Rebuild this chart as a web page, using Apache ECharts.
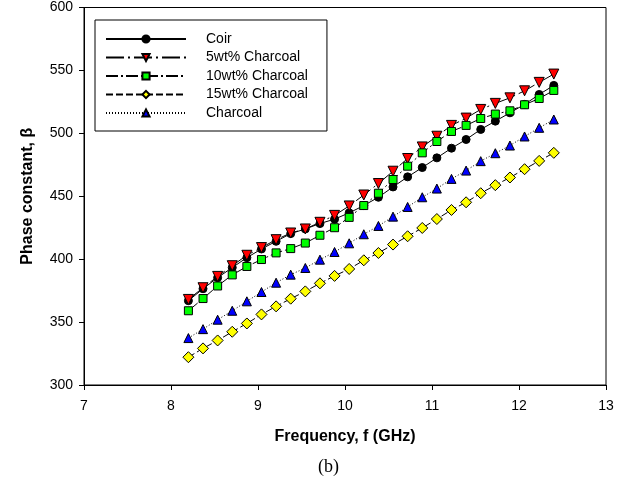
<!DOCTYPE html>
<html>
<head>
<meta charset="utf-8">
<script src="https://cdn.jsdelivr.net/npm/echarts@6/dist/echarts.min.js"></script>
<style>html,body{margin:0;padding:0;background:#fff;}#c{width:638px;height:488px;}</style>
</head>
<body>
<div id="c"></div>
<script>
var freq = [8.2, 8.368, 8.536, 8.704, 8.872, 9.04, 9.208, 9.376, 9.544, 9.712, 9.88, 10.048, 10.216, 10.384, 10.552, 10.72, 10.888, 11.056, 11.224, 11.392, 11.56, 11.728, 11.896, 12.064, 12.232, 12.4];
var coir = [367, 376.5, 385.3, 393.3, 401.2, 408.1, 414.2, 420.3, 424, 428.3, 431.8, 436.8, 442.6, 449.2, 457.4, 465.4, 472.8, 480.5, 488.2, 495.1, 503.1, 509.7, 516.3, 523, 530.9, 538.1];
var wt5 = [368, 377.3, 386.3, 394.8, 403.1, 409.2, 415.5, 420.8, 424, 429.3, 434.8, 442.3, 451, 460.1, 469.9, 480, 489.2, 497.7, 506.3, 512.1, 519, 523.8, 528.2, 533.8, 540.5, 547.1];
var wt10 = [359, 368.7, 378.7, 387.5, 394.2, 399.7, 405, 408.4, 412.8, 419, 425, 433.2, 442.6, 452.4, 463.3, 473.9, 484.5, 493.5, 501.5, 506.3, 511.8, 515.3, 517.9, 522.7, 527.7, 534.1];
var wt15 = [322.1, 329.1, 335.4, 342.3, 348.9, 356.1, 362.5, 368.6, 374.4, 380.8, 386.7, 392.2, 399.1, 404.9, 411.6, 418.2, 424.8, 431.9, 439.1, 445.2, 452.4, 458.8, 464.9, 471.5, 478.1, 484.5];
var charcoal = [337.3, 344.4, 351.9, 359, 366.5, 373.9, 381.3, 387.7, 393, 399.6, 405.7, 412.6, 419.8, 426.4, 433.8, 441.5, 449.2, 456.1, 463.8, 470.4, 477.9, 484.2, 490.3, 497.5, 504.4, 511];
var seriesNames = ['Coir', '5wt% Charcoal', '10wt% Charcoal', '15wt% Charcoal', 'Charcoal'];

function pairs(ys) { return freq.map(function (x, i) { return [x, ys[i]]; }); }

function mk(name, ys, symbol, size, color, dash) {
  return {
    name: name, type: 'line', data: pairs(ys),
    symbol: symbol, symbolSize: size,
    itemStyle: { color: color, borderColor: '#000', borderWidth: 1 },
    lineStyle: { color: '#000', width: 1, type: dash },
    emphasis: { disabled: true },
    animation: false
  };
}

var chart = echarts.init(document.getElementById('c'), null, { renderer: 'canvas' });
chart.setOption({
  animation: false,
  grid: { left: 84, right: 32, top: 7.5, bottom: 103, show: true, borderColor: '#000', borderWidth: 1, backgroundColor: 'transparent' },
  xAxis: {
    type: 'value', min: 7, max: 13, interval: 1,
    name: 'Frequency, f (GHz)', nameLocation: 'middle', nameGap: 44,
    nameTextStyle: { fontFamily: 'Liberation Sans, Arial', fontWeight: 'bold', fontSize: 16, color: '#000' },
    axisLine: { lineStyle: { color: '#000', width: 1 } },
    axisTick: { inside: false, length: 5, lineStyle: { color: '#000' } },
    axisLabel: { fontFamily: 'Liberation Sans, Arial', fontSize: 14, color: '#000', margin: 14 },
    splitLine: { show: false }
  },
  yAxis: {
    type: 'value', min: 300, max: 600, interval: 50,
    name: 'Phase constant, \u03b2', nameLocation: 'middle', nameGap: 48,
    nameTextStyle: { fontFamily: 'Liberation Sans, Arial', fontWeight: 'bold', fontSize: 16, color: '#000' },
    axisLine: { show: true, lineStyle: { color: '#000', width: 1 } },
    axisTick: { show: true, inside: false, length: 5, lineStyle: { color: '#000' } },
    axisLabel: { fontFamily: 'Liberation Sans, Arial', fontSize: 14, color: '#000', margin: 11 },
    splitLine: { show: false }
  },
  legend: {
    orient: 'vertical', left: 95, top: 20,
    padding: [12, 19, 11, 10],
    borderColor: '#000', borderWidth: 1, backgroundColor: '#fff',
    itemWidth: 80, itemHeight: 9, itemGap: 4.5,
    selectedMode: false,
    textStyle: { fontFamily: 'Liberation Sans, Arial', fontSize: 14, color: '#000', padding: [0, 0, 0, 15] },
    data: seriesNames
  },
  graphic: [{
    type: 'text', left: 318, top: 458,
    style: { text: '(b)', font: '18px "Liberation Serif", "Times New Roman", serif', fill: '#000' }
  }],
  series: [
    mk(seriesNames[0], coir, 'circle', 8, '#000000', 'solid'),
    mk(seriesNames[1], wt5, 'path://M0,0 L10,0 L5,9 Z', 10, '#ff0000', [18, 4, 2, 4]),
    mk(seriesNames[2], wt10, 'rect', 8, '#00ff00', [12, 3, 2, 3]),
    mk(seriesNames[3], wt15, 'diamond', 11, '#ffff00', [7, 3]),
    mk(seriesNames[4], charcoal, 'triangle', 9, '#0000ff', [1, 2])
  ]
});
</script>
</body>
</html>
